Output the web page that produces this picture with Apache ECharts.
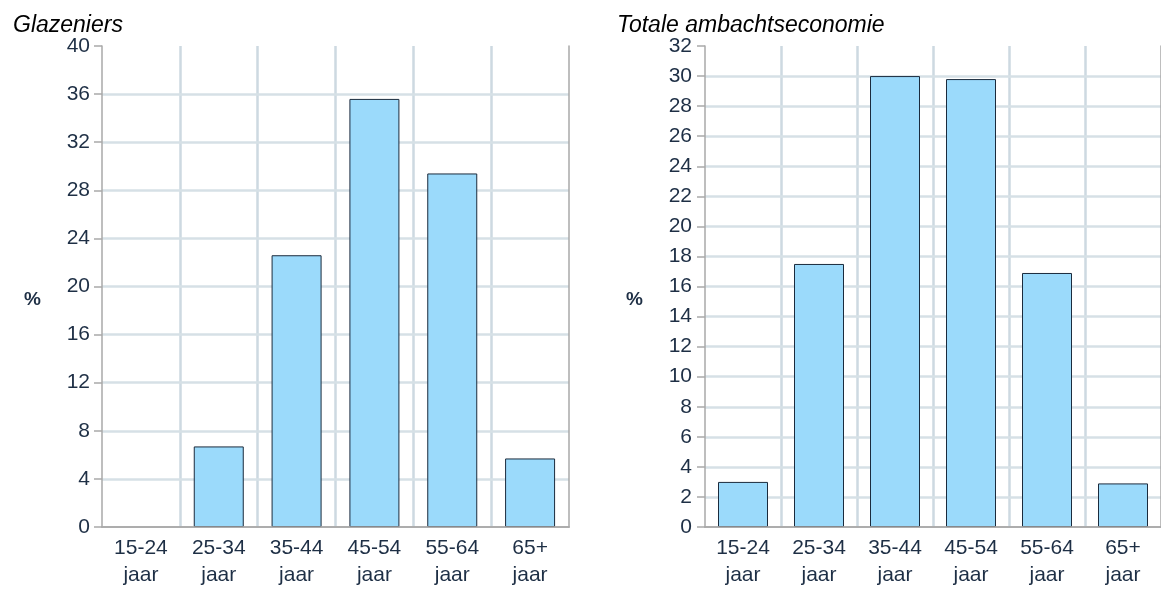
<!DOCTYPE html>
<html>
<head>
<meta charset="utf-8">
<script src="https://cdn.jsdelivr.net/npm/echarts@6/dist/echarts.min.js"></script>
<style>
  html, body { margin: 0; padding: 0; background: #fff; }
  #chart { width: 1161px; height: 589px; }
</style>
</head>
<body>
<div id="chart"></div>
<script>
const categories = ['15-24\njaar', '25-34\njaar', '35-44\njaar', '45-54\njaar', '55-64\njaar', '65+\njaar'];
const glazeniers = [0, 6.7, 22.6, 35.6, 29.4, 5.7];
const totaal = [3.0, 17.5, 30.0, 29.8, 16.9, 2.9];
const titles = ['Glazeniers', 'Totale ambachtseconomie'];
const leftAxis = { min: 0, max: 40, interval: 4 };
const rightAxis = { min: 0, max: 32, interval: 2 };
const unitLabel = '%';

const NARROW = '"Liberation Sans Narrow", "Arial Narrow", "Liberation Sans", sans-serif';
const LABEL_COLOR = '#1e2f45';
const AXIS_GRAY = '#a9a9a9';
const GRID_BLUE = '#cdd9e1';

const chart = echarts.init(document.getElementById('chart'), null, { renderer: 'canvas' });

function mainX(gridIndex) {
  return {
    type: 'category', gridIndex, data: categories, position: 'bottom', z: 1,
    axisLine: { show: true, lineStyle: { color: AXIS_GRAY, width: 1.5 } },
    axisTick: { show: false },
    splitLine: { show: true, showMinLine: false, showMaxLine: false, lineStyle: { color: GRID_BLUE, width: 2.5 } },
    axisLabel: { fontFamily: NARROW, fontSize: 21, color: LABEL_COLOR, lineHeight: 27, margin: 8, interval: 0 }
  };
}
function topX(gridIndex) {
  return {
    type: 'category', gridIndex, data: categories, position: 'top', z: 5,
    axisLine: { show: true, lineStyle: { color: AXIS_GRAY, width: 1.5 } },
    axisTick: { show: false }, axisLabel: { show: false }, splitLine: { show: false }
  };
}
function mainY(gridIndex, ax, margin) {
  return {
    type: 'value', gridIndex, min: ax.min, max: ax.max, interval: ax.interval, position: 'left', z: 3,
    axisLine: { show: true, lineStyle: { color: AXIS_GRAY, width: 1.5 } },
    axisTick: { show: true, length: 8, lineStyle: { color: AXIS_GRAY, width: 1.5 } },
    splitLine: { show: true, showMinLine: false, showMaxLine: false, lineStyle: { color: '#d6e0e6', width: 2.5 } },
    axisLabel: { fontFamily: NARROW, fontSize: 21, color: LABEL_COLOR, margin }
  };
}
function rightY(gridIndex, ax) {
  return {
    type: 'value', gridIndex, min: ax.min, max: ax.max, interval: ax.interval, position: 'right', z: 5,
    axisLine: { show: true, lineStyle: { color: AXIS_GRAY, width: 1.5 } },
    axisTick: { show: false }, axisLabel: { show: false }, splitLine: { show: false }
  };
}
function barSeries(xi, yi, values) {
  return {
    type: 'bar', xAxisIndex: xi, yAxisIndex: yi, barWidth: 50, z: 4,
    data: values.map(v => (v === 0 ? { value: v, itemStyle: { borderWidth: 0 } } : v)),
    itemStyle: { color: '#9bdafb', borderColor: '#1b2b3d', borderWidth: 1 },
    emphasis: { disabled: true }
  };
}

const titleStyle = { fontStyle: 'italic', fontWeight: 'normal', fontSize: 23, color: '#000', fontFamily: '"Liberation Sans", Arial, sans-serif' };
const pctFont = 'bold 19px "Liberation Sans", Arial, sans-serif';

chart.setOption({
  animation: false,
  title: [
    { text: titles[0], left: 8, top: 9, textStyle: titleStyle },
    { text: titles[1], left: 612, top: 9, textStyle: titleStyle }
  ],
  grid: [
    { left: 102, top: 46, width: 467, height: 481 },
    { left: 705, top: 46, width: 467, height: 481 }
  ],
  xAxis: [mainX(0), mainX(1), topX(0), topX(1)],
  yAxis: [mainY(0, leftAxis, 12), mainY(1, rightAxis, 13), rightY(0, leftAxis), rightY(1, rightAxis)],
  series: [barSeries(0, 0, glazeniers), barSeries(1, 1, totaal)],
  graphic: [
    { type: 'text', left: 24, top: 290, style: { text: unitLabel, font: pctFont, fill: LABEL_COLOR } },
    { type: 'text', left: 626, top: 290, style: { text: unitLabel, font: pctFont, fill: LABEL_COLOR } }
  ]
});
</script>
</body>
</html>
